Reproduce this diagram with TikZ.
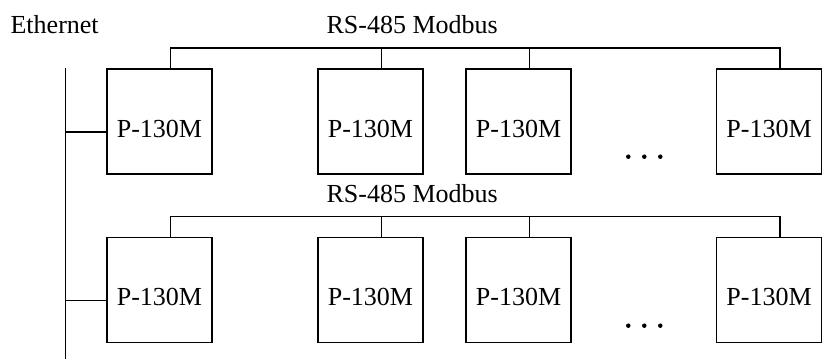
\documentclass[tikz,border=0pt]{standalone}
\usepackage{fontspec}
\setmainfont{Liberation Serif}
\begin{document}
\begin{tikzpicture}[x=1pt,y=-1pt,line width=1.2pt,
  dev/.style={draw,rectangle,minimum width=105pt,minimum height=105pt,inner sep=0pt,
    text height=31pt,text depth=0pt,font=\fontsize{26}{30}\selectfont},
  lbl/.style={anchor=base west,inner sep=0pt,font=\fontsize{26}{30}\selectfont},
  dotmark/.style={circle,fill,inner sep=0pt,minimum size=4.5pt}]
\useasboundingbox (0,0) rectangle (822,359);
% labels
\node[lbl] (eth) at (10,33) {Ethernet};
\node[lbl] (rs1) at (326,33) {RS-485 Modbus};
\node[lbl] (rs2) at (326,202.7) {RS-485 Modbus};
% Ethernet bus
\coordinate (ethtop) at (65.3,68);
\coordinate (ethbot) at (65.3,359);
\draw (ethtop) -- (ethbot);
% row 1
\node[dev] (b11) at (159.5,121.5) {P-130M};
\node[dev] (b12) at (370.5,121.5) {P-130M};
\node[dev] (b13) at (518.5,121.5) {P-130M};
\node[dev] (b15) at (769,121.5) {P-130M};
% row 2
\node[dev] (b21) at (159.5,290) {P-130M};
\node[dev] (b22) at (370.5,290) {P-130M};
\node[dev] (b23) at (518.5,290) {P-130M};
\node[dev] (b25) at (769,290) {P-130M};
% RS-485 buses
\coordinate (t1) at (0,48);
\coordinate (t2) at (0,216.7);
\foreach \r/\t in {1/t1,2/t2}{
  \foreach \c in {1,2,3,5}{
    \coordinate (s\r\c) at ([xshift=11pt]b\r\c.north);
  }
  \draw (s\r1) -- (s\r1 |- \t) -- (s\r5 |- \t) -- (s\r5);
  \draw (s\r2) -- (s\r2 |- \t);
  \draw (s\r3) -- (s\r3 |- \t);
  \coordinate (e\r) at ([yshift=-10.5pt]b\r1.west);
  \draw (e\r) -- (e\r -| ethtop);
}
% dots
\foreach \x [count=\i] in {628.3,644.3,660.3}{
  \node[dotmark] (d1\i) at (\x,156.7) {};
  \node[dotmark] (d2\i) at (\x,325.7) {};
}
\end{tikzpicture}
\end{document}
